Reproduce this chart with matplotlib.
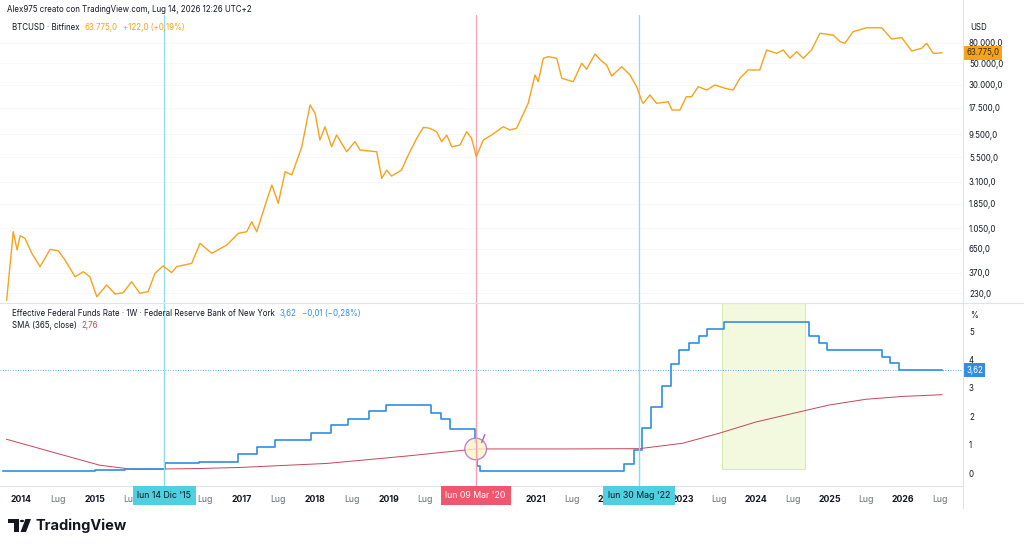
import matplotlib.pyplot as plt
import matplotlib.dates as mdates
from matplotlib.patches import Rectangle, Ellipse, Polygon, Circle
from matplotlib.lines import Line2D
from matplotlib.transforms import blended_transform_factory
import numpy as np
import pandas as pd

plt.rcParams['font.family'] = ['Inter', 'DejaVu Sans']

# --- dati ---
btc_dates = ["2013-10-21", "2013-11-23", "2013-12-12", "2013-12-27", "2014-01-20", "2014-02-23",
             "2014-04-05", "2014-05-25", "2014-07-05", "2014-08-07", "2014-09-26", "2014-11-06",
             "2014-12-09", "2015-01-12", "2015-03-02", "2015-04-13", "2015-05-23", "2015-07-04",
             "2015-08-14", "2015-09-24", "2015-10-28", "2015-12-08", "2016-01-19", "2016-02-13",
             "2016-04-28", "2016-06-08", "2016-08-05", "2016-10-19", "2016-12-16", "2017-01-26",
             "2017-02-20", "2017-03-17", "2017-05-06", "2017-05-31", "2017-07-02", "2017-08-05",
             "2017-09-07", "2017-10-27", "2017-12-07", "2018-01-01", "2018-01-25", "2018-02-19",
             "2018-03-24", "2018-04-18", "2018-06-07", "2018-07-18", "2018-08-12", "2018-11-03",
             "2018-11-28", "2018-12-23", "2019-01-16", "2019-03-07", "2019-04-01", "2019-05-21",
             "2019-06-23", "2019-07-26", "2019-08-28", "2019-09-22", "2019-10-17", "2019-11-11",
             "2019-12-22", "2020-01-24", "2020-02-18", "2020-03-12", "2020-04-16", "2020-05-27",
             "2020-07-24", "2020-08-26", "2020-09-28", "2020-11-25", "2020-12-29", "2021-01-14",
             "2021-02-08", "2021-03-05", "2021-04-16", "2021-05-11", "2021-07-07", "2021-08-18",
             "2021-09-12", "2021-10-23", "2021-11-25", "2021-12-20", "2022-01-14", "2022-03-05",
             "2022-04-15", "2022-05-18", "2022-06-14", "2022-06-20", "2022-07-23", "2022-08-25",
             "2022-10-22", "2022-11-10", "2022-12-19", "2023-01-20", "2023-02-15", "2023-03-20",
             "2023-05-01", "2023-06-11", "2023-07-31", "2023-09-10", "2023-10-13", "2023-11-23",
             "2024-01-20", "2024-02-23", "2024-04-13", "2024-05-16", "2024-06-18", "2024-07-21",
             "2024-08-23", "2024-10-03", "2024-11-14", "2025-01-19", "2025-02-22", "2025-03-18",
             "2025-04-28", "2025-07-04", "2025-09-17", "2025-11-05", "2025-12-26", "2026-02-13",
             "2026-04-03", "2026-04-28", "2026-05-31", "2026-06-24", "2026-07-13"]
btc_close = [195, 966, 630, 881, 828, 583,
             427, 640, 619, 499, 337, 379,
             337, 211, 278, 225, 232, 300,
             229, 238, 365, 434, 371, 427,
             461, 736, 583, 708, 931, 966,
             1222, 966, 2028, 2884, 1879, 3936,
             3648, 7063, 18750, 15450, 8260, 11270,
             7063, 9290, 6281, 7943, 6546, 6281,
             3373, 4093, 3556, 4093, 5383, 8590,
             11120, 10860, 10040, 7943, 9290, 7063,
             7345, 10040, 8590, 5598, 8260, 9290,
             11270, 10450, 10860, 19500, 37840, 32360,
             55950, 58070, 55950, 35000, 32360, 49770,
             43250, 61800, 52500, 47800, 36960, 45920,
             37840, 28770, 20230, 19500, 23710, 19500,
             20230, 16670, 16670, 22750, 22750, 28770,
             26610, 29920, 27730, 26610, 35000, 42560,
             42560, 67900, 62860, 67900, 55950, 65260,
             55950, 67900, 100400, 96400, 82400, 79430,
             104200, 114300, 114300, 87900, 90600, 66370,
             70630, 79430, 62860, 63000, 63775]

rate_dates = ["2013-10-01", "2014-01-01", "2014-06-01", "2015-01-01", "2015-06-01", "2015-12-17",
              "2016-06-01", "2016-09-01", "2016-12-15", "2017-03-16", "2017-06-15", "2017-12-14",
              "2018-03-22", "2018-06-14", "2018-09-27", "2018-12-20", "2019-06-01", "2019-08-01",
              "2019-09-19", "2019-10-31", "2020-03-04", "2020-03-16", "2020-03-30", "2021-06-17",
              "2022-03-17", "2022-05-05", "2022-06-16", "2022-07-28", "2022-09-22", "2022-11-03",
              "2022-12-15", "2023-02-02", "2023-03-23", "2023-05-04", "2023-07-27", "2024-09-19",
              "2024-11-08", "2024-12-19", "2025-09-18", "2025-10-30", "2025-12-11", "2026-07-13"]
rate_values = [0.09, 0.07, 0.09, 0.12, 0.13, 0.37,
               0.38, 0.40, 0.66, 0.91, 1.16, 1.42,
               1.68, 1.91, 2.18, 2.40, 2.38, 2.13,
               1.90, 1.55, 1.10, 0.25, 0.07, 0.09,
               0.33, 0.83, 1.58, 2.33, 3.08, 3.83,
               4.33, 4.58, 4.83, 5.08, 5.33, 4.83,
               4.58, 4.33, 4.09, 3.87, 3.64, 3.62]

sma_dates = ["2013-10-21", "2014-03-01", "2014-08-15", "2015-01-25", "2015-07-10", "2016-06-01",
             "2017-01-01", "2018-03-01", "2019-04-01", "2020-03-09", "2021-06-01", "2022-06-01",
             "2023-01-01", "2023-07-01", "2024-01-01", "2024-07-01", "2025-01-01", "2025-07-01",
             "2026-01-01", "2026-07-13"]
sma_values = [1.19, 0.93, 0.60, 0.28, 0.13, 0.16,
              0.20, 0.34, 0.60, 0.85, 0.85, 0.86,
              1.05, 1.40, 1.80, 2.10, 2.40, 2.60,
              2.70, 2.76]

price_ticks = [230, 370, 650, 1050, 1850, 3100, 5500, 9500, 17500, 30000, 50000, 80000]
rate_ticks = [0, 1, 2, 3, 4, 5]
year_labels = [2014, 2015, 2017, 2018, 2019, 2021, 2022, 2023, 2024, 2025, 2026]
lug_labels = [2014, 2015, 2016, 2017, 2018, 2019, 2021, 2023, 2024, 2025, 2026]
events = [("2015-12-14", "lun 14 Dic '15"), ("2020-03-09", "lun 09 Mar '20"), ("2022-05-30", "lun 30 Mag '22")]

# --- stile ---
ORANGE = "#f7a21b"
BLUE = "#2f8fe6"
SMA_RED = "#c4455a"
CYAN_LINE = "#8fdcea"
PINK_LINE = "#f3a3b3"
TXT = "#131722"
GREY = "#6a6d78"
SEP = "#e0e3eb"
FS = 5.7

W, H = 1024, 546


def px(l, t, r, b):
    return [l / W, 1 - b / H, (r - l) / W, (b - t) / H]


def itfmt(v, dec=1):
    s = f"{v:,.{dec}f}"
    return s.replace(",", "X").replace(".", ",").replace("X", ".")


fig = plt.figure(figsize=(W / 100, H / 100), dpi=100)
fig.patch.set_facecolor("white")

ax1 = fig.add_axes(px(0, 15, 962, 302))
ax2 = fig.add_axes(px(0, 303, 962, 485), sharex=ax1)

bd = pd.to_datetime(btc_dates)
rd = pd.to_datetime(rate_dates)
sd = pd.to_datetime(sma_dates)

xmin = pd.Timestamp("2013-09-18")
xmax = pd.Timestamp("2026-10-21")

# pannello prezzo
ax1.plot(bd, btc_close, color=ORANGE, lw=1.0, zorder=3)
ax1.set_yscale("log")
ax1.set_ylim(186.7, 154000)
ax1.set_xlim(xmin, xmax)
ax1.yaxis.tick_right()
ax1.set_yticks(price_ticks)
ax1.set_yticklabels([itfmt(v) for v in price_ticks])
ax1.yaxis.set_minor_locator(plt.NullLocator())
ax1.tick_params(axis="y", length=0, pad=5, labelsize=FS, labelcolor=TXT)
ax1.tick_params(axis="x", which="both", length=0, labelbottom=False)
ax1.grid(True, axis="y", color="#f6f6f8", lw=0.6)

# pannello tassi
ax2.plot(rd, rate_values, color=BLUE, lw=1.2, drawstyle="steps-post", zorder=4)
ax2.plot(sd, sma_values, color=SMA_RED, lw=0.7, zorder=3)
ax2.axhline(rate_values[-1], color=BLUE, lw=0.6, ls=(0, (1, 2)), zorder=2)
ax2.set_ylim(-0.42, 5.99)
ax2.yaxis.tick_right()
ax2.set_yticks(rate_ticks)
ax2.set_yticklabels([str(v) for v in rate_ticks])
ax2.tick_params(axis="y", length=0, pad=5, labelsize=FS, labelcolor=TXT)
ax2.grid(True, axis="y", color="#f6f6f8", lw=0.6)

# area evidenziata
x0 = mdates.date2num(pd.Timestamp("2023-07-17"))
x1 = mdates.date2num(pd.Timestamp("2024-09-01"))
ax2.add_patch(Rectangle((x0, 0.14), x1 - x0, 5.99 - 0.14, facecolor="#f3f9df",
                        edgecolor="#d8ecb0", lw=0.8, zorder=1))

# cerchio marzo 2020
xc = mdates.date2num(pd.Timestamp("2020-03-09"))
ax2.add_patch(Ellipse((xc, 0.85), 108, 0.76, facecolor="#fbf5c8", alpha=0.8,
                      edgecolor="#b463c4", lw=1.0, zorder=5))
ax2.plot([xc + 30, xc + 45], [1.08, 1.35], color="#b463c4", lw=1.0, zorder=5)

# x ticks (le etichette coperte dai riquadri delle date non si vedono)
ax2.set_xticks([mdates.date2num(pd.Timestamp(f"{y}-01-01")) for y in year_labels])
ax2.set_xticklabels([str(y) for y in year_labels])
ax2.set_xticks([mdates.date2num(pd.Timestamp(f"{y}-07-01")) for y in lug_labels], minor=True)
ax2.set_xticklabels(["Lug"] * len(lug_labels), minor=True)
ax2.tick_params(axis="x", which="both", length=0, pad=7, labelsize=6.3)
for t in ax2.get_xticklabels():
    t.set_fontweight("bold")
    t.set_color(TXT)
for t in ax2.get_xticklabels(minor=True):
    t.set_color(GREY)
ax2.grid(False)

for ax in (ax1, ax2):
    for s in ax.spines.values():
        s.set_visible(False)
    ax.set_facecolor("none")

# linee verticali eventi
ev_colors = [CYAN_LINE, PINK_LINE, CYAN_LINE]
box_colors = ["#4fcfdf", "#f0566c", "#4fcfdf"]
box_text = [TXT, "white", TXT]
trans_x = blended_transform_factory(ax2.transData, fig.transFigure)
for (d, lab), lc, bc, tc in zip(events, ev_colors, box_colors, box_text):
    xd = mdates.date2num(pd.Timestamp(d))
    ax1.axvline(xd, color=lc, lw=0.9, zorder=2)
    ax2.axvline(xd, color=lc, lw=0.9, zorder=2)
    fig.add_artist(Line2D([xd, xd], [1 - 488 / H, 1 - 302 / H], transform=trans_x, color=lc, lw=0.9))
    fig.text(xd, 1 - 495.5 / H, lab, transform=trans_x, ha="center", va="center",
             fontsize=6.3, color=tc, zorder=10,
             bbox=dict(boxstyle="square,pad=0.55", fc=bc, ec="none"))

# etichette valori correnti sull'asse
ax1.annotate(itfmt(btc_close[-1]), xy=(1, btc_close[-1]), xycoords=("axes fraction", "data"),
             xytext=(3, 0), textcoords="offset points", ha="left", va="center", fontsize=FS,
             color="#3b2a05", annotation_clip=False,
             bbox=dict(boxstyle="square,pad=0.3", fc=ORANGE, ec="none"))
ax2.annotate(itfmt(rate_values[-1], 2), xy=(1, rate_values[-1]), xycoords=("axes fraction", "data"),
             xytext=(3, 0), textcoords="offset points", ha="left", va="center", fontsize=FS,
             color="white", annotation_clip=False,
             bbox=dict(boxstyle="square,pad=0.3", fc=BLUE, ec="none"))

# separatori
fig.add_artist(Line2D([0, 1], [1 - 302.5 / H] * 2, color=SEP, lw=0.8))
fig.add_artist(Line2D([0, 962 / W], [1 - 485.5 / H] * 2, color=SEP, lw=0.8))
fig.add_artist(Line2D([962.5 / W] * 2, [1 - 508 / H, 1], color=SEP, lw=0.8))

# testi
renderer = fig.canvas.get_renderer()


def text_row(x, y, parts, gap=5):
    for s, c in parts:
        t = fig.text(x / W, 1 - y / H, s, fontsize=FS, color=c, va="center")
        x = t.get_window_extent(renderer).x1 + gap


fig.text(970 / W, 1 - 28 / H, "USD", fontsize=FS, color=TXT, va="center")
fig.text(970 / W, 1 - 316 / H, "%", fontsize=FS, color=TXT, va="center")
text_row(7, 10, [("Alex975 creato con TradingView.com, Lug 14, 2026 12:26 UTC+2", TXT)])
text_row(12, 28, [("BTCUSD · Bitfinex", TXT), ("63.775,0", ORANGE), ("+122,0 (+0,19%)", ORANGE)])
text_row(12, 313.5, [("Effective Federal Funds Rate · 1W · Federal Reserve Bank of New York", TXT),
                     ("3,62", BLUE), ("−0,01 (−0,28%)", BLUE)])
text_row(12, 325, [("SMA (365, close)", TXT), ("2,76", SMA_RED)])


# logo TradingView
def fp(pts):
    return [(x / W, 1 - y / H) for x, y in pts]


fig.add_artist(Polygon(fp([(8, 519), (19, 519), (19, 532), (14, 532), (14, 523), (8, 523)]),
                       closed=True, fc=TXT, ec="none", transform=fig.transFigure))
fig.add_artist(Circle((22 / W, 1 - 521 / H), 2.2 / W, fc=TXT, ec="none", transform=fig.transFigure))
fig.add_artist(Polygon(fp([(25.5, 519), (31, 519), (26, 532), (20.5, 532)]),
                       closed=True, fc=TXT, ec="none", transform=fig.transFigure))
fig.text(35 / W, 1 - 526 / H, "TradingView", fontsize=10.5, fontweight="bold", color=TXT, va="center")

fig.savefig("out.png", dpi=100, facecolor="white")
